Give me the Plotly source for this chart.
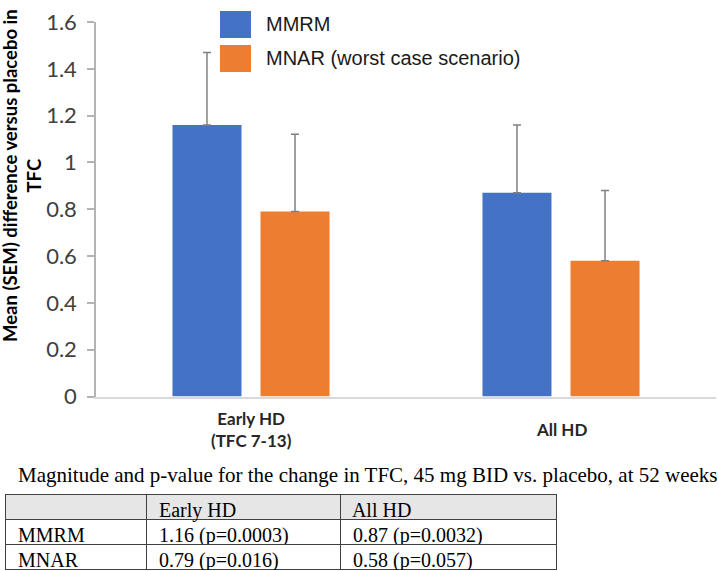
import plotly.graph_objects as go

# chart data
categories = ["Early HD", "All HD"]
category_labels = ["Early HD<br>(TFC 7-13)", "All HD"]
series_names = ["MMRM", "MNAR (worst case scenario)"]
mmrm_mean = [1.16, 0.87]
mmrm_sem = [0.31, 0.29]
mnar_mean = [0.79, 0.58]
mnar_sem = [0.33, 0.30]
y_tick_vals = [0, 0.2, 0.4, 0.6, 0.8, 1.0, 1.2, 1.4, 1.6]
y_tick_text = ["0", "0.2", "0.4", "0.6", "0.8", "1", "1.2", "1.4", "1.6"]
y_title = "Mean (SEM) difference versus placebo in<br>TFC"

# table data
caption = "Magnitude and p-value for the change in TFC, 45 mg BID vs. placebo, at 52 weeks"
table_header = ["", "Early HD", "All HD"]
table_models = ["MMRM", "MNAR"]
table_early = ["1.16 (p=0.0003)", "0.79 (p=0.016)"]
table_all = ["0.87 (p=0.0032)", "0.58 (p=0.057)"]

colors = ["#4472C4", "#ED7D31"]
W, H = 718, 571


def px(x):
    return x / W


def py(y):
    return 1 - y / H


fig = go.Figure()

for name, mean, sem, color in zip(series_names, [mmrm_mean, mnar_mean],
                                  [mmrm_sem, mnar_sem], colors):
    fig.add_trace(go.Bar(
        x=categories, y=mean, name=name,
        marker=dict(color=color, line=dict(width=0)),
        error_y=dict(type='data', array=sem, arrayminus=[0] * len(sem),
                     symmetric=False, color='#808080', thickness=1.5, width=4),
        showlegend=False
    ))

# category labels under the axis
for cat, label in zip(categories, category_labels):
    fig.add_annotation(
        x=cat, xref='x', y=py(429), yref='paper', text=label,
        showarrow=False, xanchor='center', yanchor='middle',
        font=dict(family='Lato', size=17, color='#262626', weight='bold')
    )

# y axis title
fig.add_annotation(
    x=px(22), y=py(176), xref='paper', yref='paper', text=y_title,
    textangle=-90, showarrow=False, xanchor='center', yanchor='middle',
    font=dict(family='Lato', size=18.5, color='#000000', weight='bold')
)

# legend drawn as squares + labels
for i, (name, color) in enumerate(zip(series_names, colors)):
    top = 11 + i * 34
    fig.add_shape(type='rect', xref='paper', yref='paper',
                  x0=px(220), x1=px(251), y0=py(top + 27), y1=py(top),
                  fillcolor=color, line=dict(width=0))
    fig.add_annotation(
        x=px(264), y=py(top + 13.5), xref='paper', yref='paper', text=name,
        showarrow=False, xanchor='left', yanchor='middle',
        font=dict(family='Liberation Sans', size=20, color='#1a1a1a')
    )

# caption above table
fig.add_annotation(
    x=px(16), y=py(475), xref='paper', yref='paper', text=caption,
    showarrow=False, xanchor='left', yanchor='middle',
    font=dict(family='Liberation Serif', size=21, color='#000000')
)

fig.add_trace(go.Table(
    domain=dict(x=[px(5), px(556)], y=[0, py(494)]),
    columnwidth=[141, 194, 216],
    header=dict(
        values=[' ' + h for h in table_header],
        fill_color='#e7e6e6', line=dict(color='#404040', width=1),
        align='left', height=25,
        font=dict(family='Liberation Serif', size=20, color='#000000')
    ),
    cells=dict(
        values=[[' ' + v for v in table_models],
                [' ' + v for v in table_early],
                [' ' + v for v in table_all]],
        fill_color='white', line=dict(color='#404040', width=1),
        align='left', height=25,
        font=dict(family='Liberation Serif', size=20, color='#000000')
    )
))

fig.update_layout(
    width=W, height=H,
    margin=dict(l=0, r=0, t=0, b=0),
    paper_bgcolor='white', plot_bgcolor='white',
    barmode='group', bargap=0.432, bargroupgap=0.216,
    xaxis=dict(
        domain=[px(96), px(716)], showticklabels=False, ticks='',
        showline=True, linecolor='#d9d9d9', linewidth=1.5,
        showgrid=False, zeroline=False, automargin=False
    ),
    yaxis=dict(
        domain=[py(396.5), py(22)], range=[0, 1.6],
        tickvals=y_tick_vals, ticktext=y_tick_text,
        ticks='outside', ticklen=7, tickcolor='#b3b3b3', tickwidth=1.5,
        showline=True, linecolor='#b3b3b3', linewidth=1.5,
        showgrid=False, zeroline=False, automargin=False,
        ticklabelstandoff=6,
        tickfont=dict(family='Lato', size=22, color='#404040')
    ),
    font=dict(family='Lato')
)

fig.write_html("out.html", config={'displayModeBar': False},
               post_script="document.body.style.margin = '0';")
